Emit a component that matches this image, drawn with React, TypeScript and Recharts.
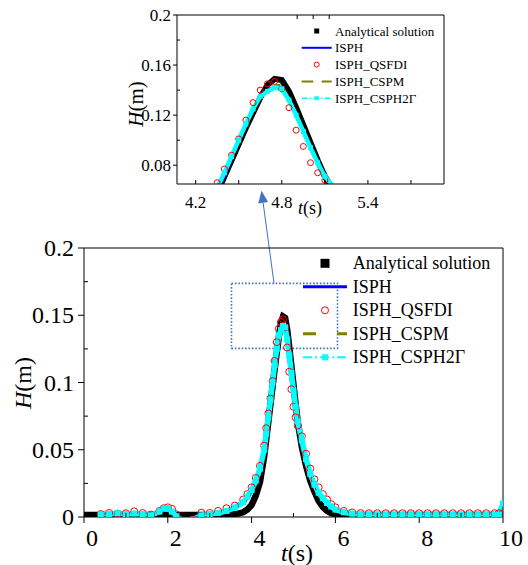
import { LineChart, Line, XAxis, YAxis, ReferenceArea, ReferenceLine, Legend } from "recharts";

const FONT = '"Liberation Serif", "Times New Roman", Times, serif';

// wave gauge record, H (m) against t (s)
const TIME = [
  0, 0.2, 0.4, 0.6, 0.8, 1.0, 1.2, 1.4, 1.6, 1.8,
  1.9, 2.0, 2.1, 2.2, 2.4, 2.6, 2.8, 3.0, 3.2, 3.4,
  3.6, 3.8, 3.9, 4.0, 4.1, 4.2, 4.3, 4.35, 4.4, 4.45,
  4.5, 4.55, 4.6, 4.65, 4.7, 4.75, 4.8, 4.85, 4.9, 4.95,
  5.0, 5.05, 5.1, 5.2, 5.3, 5.4, 5.5, 5.6, 5.7, 5.8,
  5.9, 6.0, 6.2, 6.4, 6.6, 6.8, 7.0, 7.2, 7.4, 7.6,
  7.8, 8.0, 8.2, 8.4, 8.6, 8.8, 9.0, 9.2, 9.4, 9.6,
  9.8, 9.9, 10,
];

const ANALYTICAL = [
  0.0015, 0.0015, 0.0015, 0.0015, 0.0015, 0.0015, 0.0015, 0.0015, 0.0015, 0.0015,
  0.0015, 0.0015, 0.0015, 0.0015, 0.0015, 0.0015, 0.0015, 0.0015, 0.0015, 0.0015,
  0.002, 0.0035, 0.0055, 0.009, 0.016, 0.026, 0.045, 0.058, 0.071, 0.084,
  0.097, 0.11, 0.122, 0.134, 0.144, 0.149, 0.148, 0.139, 0.126, 0.112,
  0.098, 0.084, 0.071, 0.052, 0.038, 0.027, 0.019, 0.012, 0.0075, 0.0045,
  0.0028, 0.002, 0.0015, 0.0015, 0.0015, 0.0015, 0.0015, 0.0015, 0.0015, 0.0015,
  0.0015, 0.0015, 0.0015, 0.0015, 0.0015, 0.0015, 0.0015, 0.0015, 0.0015, 0.0015,
  0.0015, 0.0015, 0.0015,
];

const ISPH = [
  null, null, 0.0015, 0.002, 0.0035, 0.0025, 0.002, 0.002, 0.001, 0.0035,
  0.0058, 0.006, 0.0035, 0.0, -0.003, -0.002, 0.001, 0.002, 0.0028, 0.0042,
  0.0068, 0.0105, 0.0145, 0.0195, 0.026, 0.035, 0.048, 0.059, 0.07, 0.084,
  0.098, 0.112, 0.124, 0.134, 0.14, 0.143, 0.14, 0.131, 0.119, 0.106,
  0.093, 0.081, 0.07, 0.056, 0.042, 0.031, 0.023, 0.017, 0.013, 0.01,
  0.0075, 0.0052, 0.0033, 0.0024, 0.0019, 0.0016, 0.0015, 0.0015, 0.0015, 0.0015,
  0.0015, 0.0015, 0.0015, 0.0015, 0.0015, 0.0015, 0.0015, 0.0015, 0.0015, 0.0015,
  0.0015, 0.002, 0.0085,
];

const QSFDI = [
  null, null, 0.0022, 0.003, 0.0025, 0.0028, 0.0042, 0.003, 0.0018, 0.0045,
  0.0065, 0.0072, 0.006, 0.002, -0.003, -0.002, 0.0032, 0.003, 0.0045, 0.0065,
  0.0085, 0.013, 0.017, 0.022, 0.029, 0.038, 0.053, 0.066, 0.077, 0.088,
  0.101, 0.116, 0.13, 0.14, 0.145, 0.147, 0.141, 0.126, 0.108, 0.095,
  0.082, 0.074, 0.068, 0.06, 0.047, 0.036, 0.028, 0.022, 0.017, 0.013,
  0.0095, 0.0072, 0.0045, 0.0034, 0.0029, 0.0028, 0.0028, 0.0028, 0.0028, 0.0028,
  0.0028, 0.0028, 0.0028, 0.0028, 0.0028, 0.0028, 0.0028, 0.0028, 0.0028, 0.0028,
  0.0028, 0.0028, 0.0028,
];

const CSPM = [
  null, null, 0.0016, 0.0024, 0.0026, 0.0022, 0.0028, 0.0024, 0.0014, 0.0038,
  0.006, 0.0062, 0.0038, 0.0003, -0.003, -0.002, 0.0012, 0.0022, 0.003, 0.0042,
  0.0065, 0.0098, 0.013, 0.018, 0.025, 0.034, 0.048, 0.06, 0.072, 0.085,
  0.099, 0.112, 0.125, 0.135, 0.14, 0.144, 0.144, 0.134, 0.121, 0.107,
  0.094, 0.082, 0.071, 0.057, 0.043, 0.032, 0.024, 0.018, 0.014, 0.0105,
  0.0078, 0.0055, 0.0035, 0.0025, 0.002, 0.0016, 0.0014, 0.0014, 0.0014, 0.0014,
  0.0014, 0.0014, 0.0014, 0.0014, 0.0014, 0.0014, 0.0014, 0.0014, 0.0014, 0.0014,
  0.0014, 0.0015, 0.0015,
];

const CSPH2G = [
  null, null, 0.0018, 0.0022, 0.0028, 0.002, 0.0026, 0.0022, 0.0012, 0.004,
  0.0062, 0.0065, 0.004, 0.0005, -0.003, -0.002, 0.0012, 0.0022, 0.003, 0.0045,
  0.007, 0.011, 0.015, 0.02, 0.027, 0.036, 0.05, 0.062, 0.074, 0.087,
  0.1, 0.113, 0.125, 0.135, 0.139, 0.142, 0.141, 0.132, 0.12, 0.107,
  0.094, 0.082, 0.071, 0.057, 0.043, 0.032, 0.024, 0.018, 0.014, 0.0105,
  0.0078, 0.0055, 0.0035, 0.0025, 0.002, 0.0016, 0.0014, 0.0014, 0.0014, 0.0014,
  0.0014, 0.0014, 0.0014, 0.0014, 0.0014, 0.0014, 0.0014, 0.0014, 0.0014, 0.0014,
  0.0014, 0.0016, 0.01,
];

const SERIES_NAMES = ["Analytical solution", "ISPH", "ISPH_QSFDI", "ISPH_CSPM", "ISPH_CSPH2Γ"];

const MAIN_X_TICKS = [0, 1, 2, 3, 4, 5, 6, 7, 8, 9, 10];
const MAIN_Y_TICKS = [0, 0.025, 0.05, 0.075, 0.1, 0.125, 0.15, 0.175, 0.2];
const INSET_X_TICKS = [4.2, 4.5, 4.8, 5.1, 5.4, 5.7];
const INSET_Y_TICKS = [0.08, 0.1, 0.12, 0.14, 0.16, 0.18, 0.2];

// dotted zoom window and the arrow pointing to the inset (data units)
const ZOOM_T = [3.52, 6.05];
const ZOOM_H = [0.1254, 0.1737];
const ARROW = [{ x: 4.237, y: 0.2425 }, { x: 4.535, y: 0.1737 }];

const rows = TIME.map((t, i) => ({
  t,
  analytical: ANALYTICAL[i],
  isph: ISPH[i],
  qsfdi: QSFDI[i],
  cspm: CSPM[i],
  csph: CSPH2G[i],
}));

const ZOOM_BLUE = "#4472C4";

const circleDot = (r: number) => (p: any) =>
  p.cy == null || p.value == null ? (
    <g key={p.index} />
  ) : (
    <circle key={p.index} cx={p.cx} cy={p.cy} r={r} fill="none" stroke="#FF0000" strokeWidth={1} />
  );

const squareDot = (s: number) => (p: any) =>
  p.cy == null || p.value == null ? (
    <g key={p.index} />
  ) : (
    <rect key={p.index} x={p.cx - s / 2} y={p.cy - s / 2} width={s} height={s} fill="#00FFFF" />
  );

function seriesLines(s: { black: number; blue: number; olive: number; cyan: number; sq: number; r: number; dash: string }) {
  return [
    <Line key="a" dataKey="analytical" stroke="#000000" strokeWidth={s.black} dot={false} activeDot={false} isAnimationActive={false} />,
    <Line key="b" dataKey="isph" stroke="#0000FF" strokeWidth={s.blue} dot={false} activeDot={false} isAnimationActive={false} />,
    <Line key="c" dataKey="qsfdi" stroke="none" dot={circleDot(s.r)} activeDot={false} isAnimationActive={false} />,
    <Line key="d" dataKey="cspm" stroke="#808000" strokeWidth={s.olive} strokeDasharray={s.dash} dot={false} activeDot={false} isAnimationActive={false} />,
    <Line key="e" dataKey="csph" stroke="#00FFFF" strokeWidth={s.cyan} dot={squareDot(s.sq)} activeDot={false} isAnimationActive={false} />,
  ];
}

type LegendGeo = {
  w: number; h: number; top: number; rowH: number; x0: number; x1: number; xc: number;
  textX: number; font: number; sq: number; r: number; lw: number; olive: string; cyanDash: string; cq: number;
};

function SeriesLegend({ g }: { g: LegendGeo }) {
  return (
    <svg width={g.w} height={g.h} style={{ display: "block", overflow: "visible" }}>
      {SERIES_NAMES.map((name, i) => {
        const y = g.top + i * g.rowH;
        let sym = null;
        if (i === 0) sym = <rect x={g.xc - g.sq / 2} y={y - g.sq / 2} width={g.sq} height={g.sq} fill="#000" />;
        if (i === 1) sym = <line x1={g.x0} x2={g.x1} y1={y} y2={y} stroke="#0000FF" strokeWidth={g.lw} />;
        if (i === 2) sym = <circle cx={g.xc} cy={y} r={g.r} fill="none" stroke="#FF0000" strokeWidth={1} />;
        if (i === 3) sym = <line x1={g.x0} x2={g.x1} y1={y} y2={y} stroke="#808000" strokeWidth={g.lw} strokeDasharray={g.olive} />;
        if (i === 4)
          sym = (
            <g>
              <line x1={g.x0} x2={g.x1} y1={y} y2={y} stroke="#00FFFF" strokeWidth={g.lw * 0.7} strokeDasharray={g.cyanDash} />
              <rect x={g.xc - g.cq / 2} y={y - g.cq / 2} width={g.cq} height={g.cq} fill="#00FFFF" />
            </g>
          );
        return (
          <g key={name}>
            {sym}
            <text x={g.textX} y={y} dominantBaseline="central" fontFamily={FONT} fontSize={g.font} fill="#000">
              {name}
            </text>
          </g>
        );
      })}
    </svg>
  );
}

const MAIN_LEGEND: LegendGeo = {
  w: 225, h: 120, top: 12.3, rowH: 23.5, x0: 8, x1: 52, xc: 30, textX: 57.7, font: 18,
  sq: 9, r: 3.5, lw: 3, olive: "13 21", cyanDash: "9 3 2 3", cq: 6,
};

const INSET_LEGEND: LegendGeo = {
  w: 150, h: 90, top: 11, rowH: 16.8, x0: 6.7, x1: 36.7, xc: 21.7, textX: 40, font: 13,
  sq: 5, r: 2.5, lw: 2, olive: "11.6 8.4", cyanDash: "6 2 1.5 2", cq: 4,
};

const ArrowShape = (p: any) => {
  const { x1, y1, x2, y2 } = p;
  const ang = Math.atan2(y1 - y2, x1 - x2);
  const len = 12;
  const half = 5;
  const bx = x1 - len * Math.cos(ang);
  const by = y1 - len * Math.sin(ang);
  const px = -Math.sin(ang) * half;
  const py = Math.cos(ang) * half;
  return (
    <g>
      <line x1={bx} y1={by} x2={x2} y2={y2} stroke={ZOOM_BLUE} strokeWidth={1} />
      <polygon points={`${x1},${y1} ${bx + px},${by + py} ${bx - px},${by - py}`} fill={ZOOM_BLUE} />
    </g>
  );
};

// ---- main chart ticks ----
const MainXTick = ({ x, y, payload }: any) => {
  const v = payload.value;
  const major = v % 2 === 0;
  return (
    <g>
      <line x1={x} x2={x} y1={y} y2={major ? y + 6 : y - 4} stroke="#000" strokeWidth={1} />
      {major && (
        <text x={x + 8} y={y + 29} textAnchor="middle" fontFamily={FONT} fontSize={24} fill="#000">
          {v}
        </text>
      )}
    </g>
  );
};

const MainYTick = ({ x, y, payload }: any) => {
  const v = payload.value;
  const major = Math.round(v * 1000) % 50 === 0;
  return (
    <g>
      <line x1={x} x2={major ? x - 6 : x + 4} y1={y} y2={y} stroke="#000" strokeWidth={1} />
      {major && (
        <text x={x - 10} y={y} textAnchor="end" dominantBaseline="central" fontFamily={FONT} fontSize={24} fill="#000">
          {String(v)}
        </text>
      )}
    </g>
  );
};

const MainRightTick = ({ x, y, payload }: any) => {
  const v = payload.value;
  if (v === 0 || v === 0.2) return <g />;
  return <line x1={x} x2={x - 5} y1={y} y2={y} stroke="#000" strokeWidth={1} />;
};

// ---- inset ticks ----
const InsetXTick = ({ x, y, payload }: any) => {
  const v = payload.value;
  const labelled = Math.round(v * 10) % 6 === 0;
  return (
    <g>
      <line x1={x} x2={x} y1={y} y2={y - 4} stroke="#000" strokeWidth={1} />
      {labelled && (
        <text x={x} y={y + 24} textAnchor="middle" fontFamily={FONT} fontSize={17} fill="#000">
          {v.toFixed(1)}
        </text>
      )}
    </g>
  );
};

const InsetYTick = ({ x, y, payload }: any) => {
  const v = payload.value;
  const major = Math.round(v * 100) % 4 === 0;
  return (
    <g>
      <line x1={x} x2={major ? x - 4 : x + 3} y1={y} y2={y} stroke="#000" strokeWidth={1} />
      {major && (
        <text x={x - 6} y={y} textAnchor="end" dominantBaseline="central" fontFamily={FONT} fontSize={17} fill="#000">
          {String(v)}
        </text>
      )}
    </g>
  );
};

const InsetRightTick = ({ x, y, payload }: any) => {
  const major = Math.round(payload.value * 100) % 4 === 0;
  if (major) return <g />;
  return <line x1={x} x2={x - 4} y1={y} y2={y} stroke="#000" strokeWidth={1} />;
};

const InsetTopTick = ({ x, y, payload }: any) => {
  const labelled = Math.round(payload.value * 10) % 6 === 0;
  if (labelled) return <g />;
  return <line x1={x} x2={x} y1={y} y2={y + 4} stroke="#000" strokeWidth={1} />;
};

const axisTitle = (x: number, y: number, size: number, italic: string, rest: string, rotate = false) => () =>
  (
    <text
      x={rotate ? 0 : x}
      y={rotate ? 0 : y}
      transform={rotate ? `translate(${x},${y}) rotate(-90)` : undefined}
      textAnchor="middle"
      dominantBaseline={rotate ? "central" : undefined}
      fontFamily={FONT}
      fontSize={size}
      fill="#000"
    >
      <tspan fontStyle="italic">{italic}</tspan>
      {rest}
    </text>
  );

const AXIS_LINE = { stroke: "#000", strokeWidth: 1 };

export default function App() {
  return (
    <div style={{ position: "absolute", left: 0, top: 0, width: 528, height: 565, background: "#fff" }}>
      <div style={{ position: "absolute", left: 0, top: 0 }}>
        {/* axes are 1px thick so the plot box lands on 84..503 x 248..517 */}
        <LineChart width={528} height={565} data={rows} margin={{ top: 247, right: 24, bottom: 47, left: 83 }}>
          <XAxis
            dataKey="t"
            type="number"
            domain={[0, 10]}
            ticks={MAIN_X_TICKS}
            interval={0}
            allowDataOverflow
            height={1}
            tickSize={0}
            tickMargin={0}
            tickLine={false}
            tick={MainXTick}
            axisLine={AXIS_LINE}
            label={{ content: axisTitle(297, 561, 24, "t", "(s)") }}
          />
          <XAxis xAxisId="top" orientation="top" dataKey="t" type="number" domain={[0, 10]} height={1} tick={false} tickLine={false} axisLine={AXIS_LINE} />
          <YAxis
            type="number"
            domain={[0, 0.2]}
            ticks={MAIN_Y_TICKS}
            interval={0}
            allowDataOverflow
            width={1}
            tickSize={0}
            tickMargin={0}
            tickLine={false}
            tick={MainYTick}
            axisLine={AXIS_LINE}
            label={{ content: axisTitle(23, 383, 24, "H", "(m)", true) }}
          />
          <YAxis
            yAxisId="right"
            orientation="right"
            type="number"
            domain={[0, 0.2]}
            ticks={MAIN_Y_TICKS}
            interval={0}
            width={1}
            tickSize={0}
            tickMargin={0}
            tickLine={false}
            tick={MainRightTick}
            axisLine={AXIS_LINE}
          />
          <ReferenceArea
            x1={ZOOM_T[0]}
            x2={ZOOM_T[1]}
            y1={ZOOM_H[0]}
            y2={ZOOM_H[1]}
            fill="none"
            stroke={ZOOM_BLUE}
            strokeWidth={1.6}
            strokeDasharray="1.6 1.8"
          />
          <ReferenceLine segment={ARROW} ifOverflow="visible" shape={ArrowShape} />
          {seriesLines({ black: 6.5, blue: 2.5, olive: 2.5, cyan: 5.5, sq: 6, r: 3.5, dash: "10 6" })}
          <Legend
            layout="vertical"
            align="center"
            verticalAlign="middle"
            content={() => <SeriesLegend g={MAIN_LEGEND} />}
            wrapperStyle={{ left: 295, top: 251, width: 225, height: 120 }}
          />
        </LineChart>
      </div>
      <div style={{ position: "absolute", left: 0, top: 0 }}>
        <LineChart width={528} height={230} data={rows} margin={{ top: 14, right: 83, bottom: 45, left: 176 }}>
          <XAxis
            dataKey="t"
            type="number"
            domain={[4.07, 5.93]}
            ticks={INSET_X_TICKS}
            interval={0}
            allowDataOverflow
            height={1}
            tickSize={0}
            tickMargin={0}
            tickLine={false}
            tick={InsetXTick}
            axisLine={AXIS_LINE}
            label={{ content: axisTitle(310, 214, 18, "t", "(s)") }}
          />
          <XAxis
            xAxisId="top"
            orientation="top"
            dataKey="t"
            type="number"
            domain={[4.07, 5.93]}
            ticks={INSET_X_TICKS}
            interval={0}
            height={1}
            tickSize={0}
            tickMargin={0}
            tickLine={false}
            tick={InsetTopTick}
            axisLine={AXIS_LINE}
          />
          <YAxis
            type="number"
            domain={[0.065, 0.2]}
            ticks={INSET_Y_TICKS}
            interval={0}
            allowDataOverflow
            width={1}
            tickSize={0}
            tickMargin={0}
            tickLine={false}
            tick={InsetYTick}
            axisLine={AXIS_LINE}
            label={{ content: axisTitle(136, 104, 21, "H", "(m)", true) }}
          />
          <YAxis
            yAxisId="right"
            orientation="right"
            type="number"
            domain={[0.065, 0.2]}
            ticks={INSET_Y_TICKS}
            interval={0}
            width={1}
            tickSize={0}
            tickMargin={0}
            tickLine={false}
            tick={InsetRightTick}
            axisLine={AXIS_LINE}
          />
          {seriesLines({ black: 6, blue: 2, olive: 2, cyan: 4.5, sq: 5, r: 3, dash: "8 5" })}
          <Legend
            layout="vertical"
            align="center"
            verticalAlign="middle"
            content={() => <SeriesLegend g={INSET_LEGEND} />}
            wrapperStyle={{ left: 295, top: 20, width: 150, height: 90 }}
          />
        </LineChart>
      </div>
    </div>
  );
}
